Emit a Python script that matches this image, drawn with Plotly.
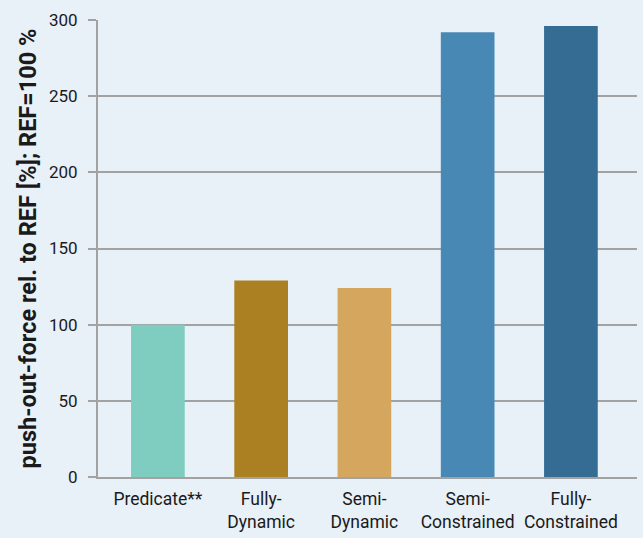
import plotly.graph_objects as go

# Push-out force per implant design, relative to the reference (REF = 100 %)
categories = ["Predicate**", "Fully-<br>Dynamic", "Semi-<br>Dynamic",
              "Semi-<br>Constrained", "Fully-<br>Constrained"]
values = [100, 129, 124, 292, 296]
bar_colors = ["#7ecdc0", "#ab8023", "#d5a75e", "#4888b5", "#356c94"]

y_ticks = [0, 50, 100, 150, 200, 250, 300]

bg = "#e8f0f8"
grid = "#a2a2a2"
font_family = "Roboto, 'Open Sans', sans-serif"

fig = go.Figure(
    go.Bar(
        x=list(range(len(categories))),
        y=values,
        marker=dict(color=bar_colors, line=dict(width=0)),
        width=0.52,
        hoverinfo="skip",
    )
)

fig.update_layout(
    width=643,
    height=538,
    paper_bgcolor=bg,
    plot_bgcolor=bg,
    margin=dict(l=98, r=6, t=20, b=58),
    showlegend=False,
    font=dict(family=font_family, size=17, color="#1a1a1a"),
)

fig.update_xaxes(
    tickmode="array",
    tickvals=list(range(len(categories))),
    ticktext=categories,
    range=[-0.58, 4.64],
    showgrid=False,
    showline=True,
    linecolor=grid,
    linewidth=2,
    ticks="",
    zeroline=False,
    ticklabelstandoff=5,
    tickfont=dict(size=17.5, color="#1a1a1a"),
)

fig.update_yaxes(
    range=[0, 300],
    tickmode="array",
    tickvals=y_ticks,
    showgrid=True,
    gridcolor=grid,
    gridwidth=2,
    showline=True,
    linecolor=grid,
    linewidth=2,
    ticks="outside",
    ticklen=8,
    tickwidth=2,
    tickcolor=grid,
    zeroline=False,
    ticklabelstandoff=7,
    tickfont=dict(size=17, color="#1a1a1a"),
    title=dict(
        text="<b>push-out-force rel. to REF [%]; REF=100 %</b>",
        font=dict(size=23.5, color="#1a1a1a"),
        standoff=6,
    ),
)

fig.write_html("out.html")
